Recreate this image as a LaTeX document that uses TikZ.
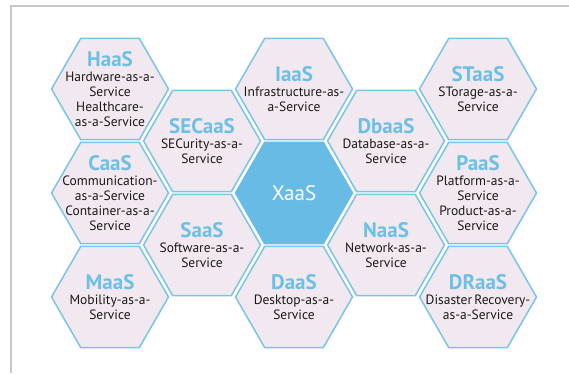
\documentclass[tikz,border=0pt]{standalone}
\usepackage{fontspec}
\setmainfont{PT Sans}
\usepackage{tikz}
\usetikzlibrary{shapes.geometric}
\usetikzlibrary{positioning}
\definecolor{hexfill}{RGB}{242,233,240}
\definecolor{hexline}{RGB}{122,196,229}
\definecolor{hexblue}{RGB}{104,187,228}
\definecolor{titleblue}{RGB}{108,192,230}
\definecolor{framegray}{RGB}{200,200,200}
\tikzstyle{every node}+=[inner sep=0pt]
\tikzstyle{hex} = [regular polygon, regular polygon sides=6, minimum size=117pt, draw=hexline, line width=1.5pt, fill=hexfill]
\tikzstyle{hub} = [hex, fill=hexblue, draw=hexblue]
\tikzstyle{body} = [align=center, text=black!90, font=\fontsize{13.5}{14.8}\selectfont]
\newcommand{\ttl}[1]{{\fontsize{21}{14.8}\selectfont\bfseries\color{titleblue}#1}}

\begin{document}
\begin{tikzpicture}[x=1pt, y=1pt]
            \useasboundingbox (0,0) rectangle (569,373);
            % Frame
            \draw [framegray, line width=1.2pt] (569,367) -- (11,367) -- (11,0);
            % Place hexagons
            \node [hex] (haas) at (110,284) {};
            \node [hex] (caas) at (110,180) {};
            \node [hex] (maas) at (110,76) {};
            \node [hex] (secaas) at (202,232) {};
            \node [hex] (saas) at (202,128) {};
            \node [hex] (iaas) at (294,284) {};
            \node [hub] (xaas) at (294,180) {};
            \node [hex] (daas) at (294,76) {};
            \node [hex] (dbaas) at (386,232) {};
            \node [hex] (naas) at (386,128) {};
            \node [hex] (staas) at (478,284) {};
            \node [hex] (paas) at (478,180) {};
            \node [hex] (draas) at (478,76) {};
            % Place labels
            \node [body] at (haas) {\ttl{HaaS}\\Hardware-as-a-\\Service\\Healthcare-\\as-a-Service};
            \node [body] at (caas) {\ttl{CaaS}\\Communication-\\as-a-Service\\Container-as-a-\\Service};
            \node [body] at (maas) {\ttl{MaaS}\\Mobility-as-a-\\Service};
            \node [body] at (secaas) {\ttl{SECaaS}\\SECurity-as-a-\\Service};
            \node [body] at (saas) {\ttl{SaaS}\\Software-as-a-\\Service};
            \node [body] at (iaas) {\ttl{IaaS}\\Infrastructure-as-\\a-Service};
            \node [body, text=white, font=\fontsize{21}{21}\selectfont] at (xaas) {XaaS};
            \node [body] at (daas) {\ttl{DaaS}\\Desktop-as-a-\\Service};
            \node [body] at (dbaas) {\ttl{DbaaS}\\Database-as-a-\\Service};
            \node [body] at (naas) {\ttl{NaaS}\\Network-as-a-\\Service};
            \node [body] at (staas) {\ttl{STaaS}\\STorage-as-a-\\Service};
            \node [body] at (paas) {\ttl{PaaS}\\Platform-as-a-\\Service\\Product-as-a-\\Service};
            \node [body] at (draas) {\ttl{DRaaS}\\Disaster\,Recovery-\\as-a-Service};
\end{tikzpicture}
\end{document}
